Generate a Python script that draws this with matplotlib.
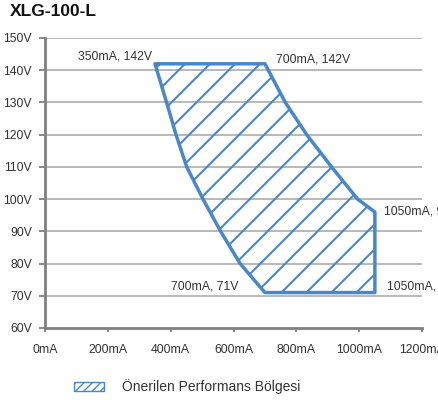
import matplotlib
matplotlib.use("Agg")
import matplotlib.pyplot as plt
from matplotlib.patches import Polygon, Patch
import numpy as np

plt.rcParams['font.family'] = ['Liberation Sans Narrow', 'Liberation Sans', 'DejaVu Sans']

# Operating area outline (mA, V)
current_ma = [350, 700, 765, 833, 912, 995, 1050, 1050, 700, 621, 559, 503, 451, 417, 387, 350]
voltage_v = [142, 142, 130, 120, 110, 100, 96, 71, 71, 80, 90, 100, 110, 120, 130, 142]

# corner labels
label_text = ['350mA, 142V', '700mA, 142V', '1050mA, 96V', '1050mA, 71V', '700mA, 71V']

x_ticks = [0, 200, 400, 600, 800, 1000, 1200]
x_labels = ['0mA', '200mA', '400mA', '600mA', '800mA', '1000mA', '1200mA']
y_ticks = [60, 70, 80, 90, 100, 110, 120, 130, 140, 150]
y_labels = ['60V', '70V', '80V', '90V', '100V', '110V', '120V', '130V', '140V', '150V']

blue = '#4a87c8'
txt = '#333333'

fig = plt.figure(figsize=(4.38, 4.0), dpi=100)
ax = fig.add_axes([45/438, 1-328/400, 377/438, 290/400])
ax.set_xlim(0, 1200)
ax.set_ylim(60, 150)

# grid
for v in y_ticks[1:]:
    ax.axhline(v, color='#b9b9b9', lw=1.4, zorder=1)

# outline
poly = Polygon(np.column_stack([current_ma, voltage_v]), closed=True,
               facecolor='none', edgecolor=blue, lw=2.5, joinstyle='round', zorder=4)
ax.add_patch(poly)

# diagonal hatch lines clipped to the area (45 deg on screen)
k = (377/1200) / (290/90)  # V per mA for 45 degrees
clip = Polygon(np.column_stack([current_ma, voltage_v]), closed=True, transform=ax.transData)
for off in np.arange(-362, 1400, 79.6):
    xs = np.array([0, 1200])
    ys = 71 + k * (xs - off)
    ln, = ax.plot(xs, ys, color=blue, lw=1.5, zorder=3, solid_capstyle='butt')
    ln.set_clip_path(clip)

# labels
fs = 8.8
ax.text(341, 142.5, label_text[0], ha='right', va='bottom', fontsize=fs, color=txt)
ax.text(735, 141.6, label_text[1], ha='left', va='bottom', fontsize=fs, color=txt)
ax.text(1080, 96.3, label_text[2], ha='left', va='center', fontsize=fs, color=txt, clip_on=False)
ax.text(1088, 71.0, label_text[3], ha='left', va='bottom', fontsize=fs, color=txt, clip_on=False)
ax.text(617, 71.0, label_text[4], ha='right', va='bottom', fontsize=fs, color=txt)

ax.set_xticks(x_ticks)
ax.set_xticklabels(x_labels)
ax.set_yticks(y_ticks)
ax.set_yticklabels(y_labels)
ax.tick_params(axis='both', colors='#808080', labelcolor=txt, labelsize=fs, width=1.3)
ax.tick_params(axis='x', length=3, pad=8.5)
ax.tick_params(axis='y', length=4.5, pad=5)

for s in ['top', 'right']:
    ax.spines[s].set_visible(False)
for s in ['left', 'bottom']:
    ax.spines[s].set_color('#808080')
    ax.spines[s].set_linewidth(2)

fig.text(10/438, 1-11/400, 'XLG-100-L', fontsize=12.5, fontweight='bold', color='#111111', va='center', ha='left')

handle = Patch(facecolor='white', edgecolor=blue, hatch='////', lw=1)
fig.legend([handle], ['Önerilen Performans Bölgesi'], loc='center left', bbox_to_anchor=(61/438, 1-387/400),
           frameon=False, fontsize=10, handlelength=2.2, handleheight=0.7, handletextpad=1.3,
           labelcolor=txt)

fig.savefig('out.png', dpi=100)
